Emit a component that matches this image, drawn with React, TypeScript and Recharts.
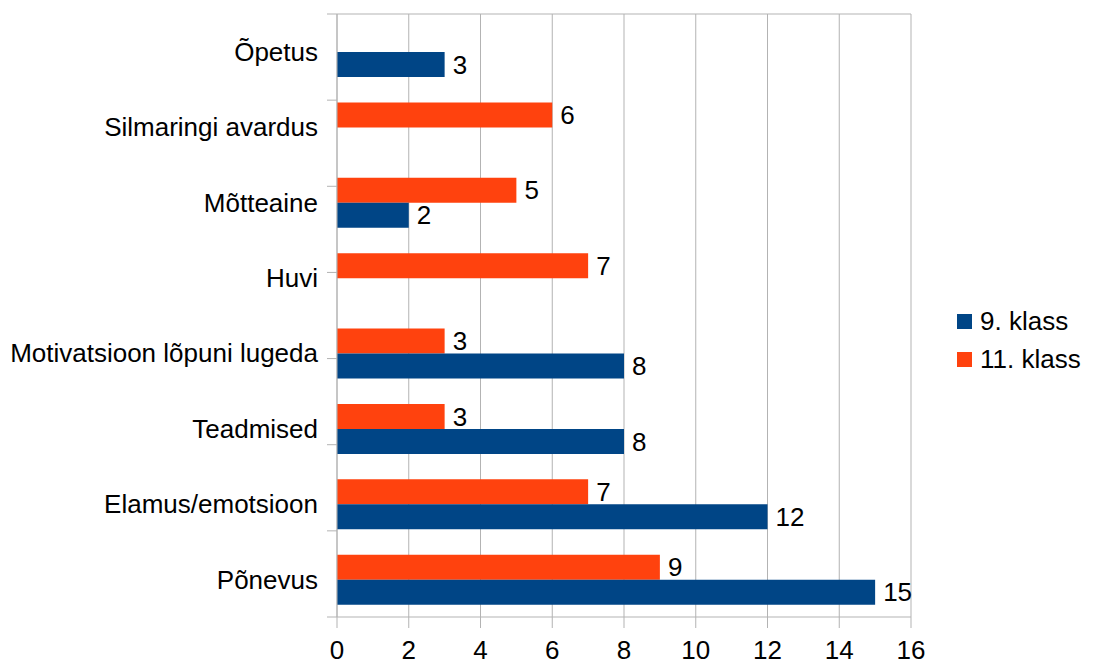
import { BarChart, Bar, XAxis, YAxis, CartesianGrid, Legend, LabelList } from 'recharts';

const categories = [
  'Õpetus',
  'Silmaringi avardus',
  'Mõtteaine',
  'Huvi',
  'Motivatsioon lõpuni lugeda',
  'Teadmised',
  'Elamus/emotsioon',
  'Põnevus',
];

const klass9: (number | null)[] = [3, null, 2, null, 8, 8, 12, 15];
const klass11: (number | null)[] = [null, 6, 5, 7, 3, 3, 7, 9];

const xTicks = [0, 2, 4, 6, 8, 10, 12, 14, 16];
const bandTicks = [0, 1, 2, 3, 4, 5, 6, 7, 8];

const BLUE = '#004586';
const ORANGE = '#ff420e';
const GRID = '#b3b3b3';
const FONT = '"Liberation Sans", Arial, sans-serif';
const FS = 26;

const data = categories.map((name, i) => ({ name, k9: klass9[i], k11: klass11[i] }));

const legendItems = [
  { label: '9. klass', color: BLUE },
  { label: '11. klass', color: ORANGE },
];

function ChartLegend() {
  return (
    <div style={{ fontFamily: FONT, fontSize: FS, color: '#000' }}>
      {legendItems.map((item) => (
        <div key={item.label} style={{ display: 'flex', alignItems: 'center', height: 38 }}>
          <span style={{ width: 15, height: 15, background: item.color, marginRight: 8 }} />
          <span>{item.label}</span>
        </div>
      ))}
    </div>
  );
}

const noTick = () => <g />;

export default function App() {
  return (
    <div style={{ position: 'absolute', left: 0, top: 0, background: '#fff' }}>
      <BarChart
        width={1095}
        height={662}
        data={data}
        layout="vertical"
        margin={{ top: 13, right: 184, bottom: 0, left: 0 }}
        barSize={25}
        barGap={0}
      >
        <CartesianGrid horizontal={false} stroke={GRID} />
        <XAxis
          type="number"
          domain={[0, 16]}
          ticks={xTicks}
          height={45}
          tickSize={11}
          tickMargin={13}
          stroke={GRID}
          tick={{ fill: '#000', fontSize: FS, fontFamily: FONT }}
        />
        <XAxis
          xAxisId="top"
          orientation="top"
          type="number"
          domain={[0, 16]}
          height={1}
          tick={noTick}
          tickLine={false}
          stroke={GRID}
        />
        <YAxis
          type="category"
          dataKey="name"
          width={337}
          tickSize={10}
          tickMargin={9}
          tickLine={false}
          stroke={GRID}
          tick={{ fill: '#000', fontSize: FS, fontFamily: FONT }}
        />
        <YAxis
          yAxisId="band"
          type="number"
          domain={[0, 8]}
          ticks={bandTicks}
          mirror
          tickSize={-10}
          tick={noTick}
          axisLine={false}
          stroke={GRID}
        />
        <Legend
          layout="vertical"
          align="center"
          verticalAlign="middle"
          content={<ChartLegend />}
          wrapperStyle={{ left: 957, top: 302, width: 140, height: 76 }}
        />
        <Bar dataKey="k11" name="11. klass" fill={ORANGE} isAnimationActive={false}>
          <LabelList dataKey="k11" position="right" offset={8} fill="#000" fontSize={FS} fontFamily={FONT} />
        </Bar>
        <Bar dataKey="k9" name="9. klass" fill={BLUE} isAnimationActive={false}>
          <LabelList dataKey="k9" position="right" offset={8} fill="#000" fontSize={FS} fontFamily={FONT} />
        </Bar>
      </BarChart>
    </div>
  );
}
